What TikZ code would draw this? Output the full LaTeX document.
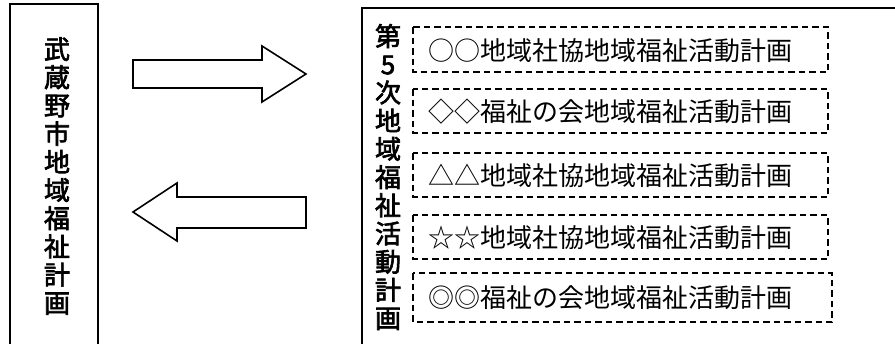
\documentclass[tikz,border=0pt]{standalone}
\usepackage{fontspec}
\setmainfont{Noto Sans CJK JP}
\newfontfamily\medjp{Noto Sans CJK JP}[FakeBold=2.5]
\tikzset{
  panel/.style={draw=black, line width=1.8pt},
  blockarrow/.style={draw=black, line width=1.6pt, fill=white, line join=miter},
  planbox/.style={draw=black, line width=1.3pt, dash pattern=on 6.5pt off 4pt},
  plantext/.style={font=\fontsize{26}{30}\selectfont, inner sep=0pt, anchor=center},
  vtext/.style={font=\fontsize{26}{28.2}\selectfont\medjp, align=center, inner sep=0pt, anchor=center}
}
\begin{document}
\begin{tikzpicture}[x=1pt,y=-1pt]
\useasboundingbox (0,0) rectangle (895,343);
\clip (0,0) rectangle (895,343);
% outer panels
\draw[panel] (10,4) rectangle (98,360);
\draw[panel] (362,8) rectangle (910,360);
% vertical labels
\node[vtext] (city) at (57,176) {武\\蔵\\野\\市\\地\\域\\福\\祉\\計\\画};
\node[vtext] (fifth) at (388,177) {第\\5\\次\\地\\域\\福\\祉\\活\\動\\計\\画};
% block arrows
\draw[blockarrow] (133,60) -- (262,60) -- (262,46) -- (306,74) -- (262,102) -- (262,88) -- (133,88) -- cycle;
\draw[blockarrow] (306,197) -- (177,197) -- (177,183) -- (133,212) -- (177,241) -- (177,228) -- (306,228) -- cycle;
% dashed plan boxes
\draw[planbox] (413,27) rectangle (828,72);
\draw[planbox] (413,89) rectangle (828,133);
\draw[planbox] (413,153) rectangle (828,197);
\draw[planbox] (413,215) rectangle (828,259);
\draw[planbox] (413,273) rectangle (832,322);
\node[plantext] (p1) at (610,51) {○○地域社協地域福祉活動計画};
\node[plantext] (p2) at (610,112) {◇◇福祉の会地域福祉活動計画};
\node[plantext] (p3) at (610,176) {△△地域社協地域福祉活動計画};
\node[plantext] (p4) at (610,238) {☆☆地域社協地域福祉活動計画};
\node[plantext] (p5) at (610,298) {◎◎福祉の会地域福祉活動計画};
\end{tikzpicture}
\end{document}
